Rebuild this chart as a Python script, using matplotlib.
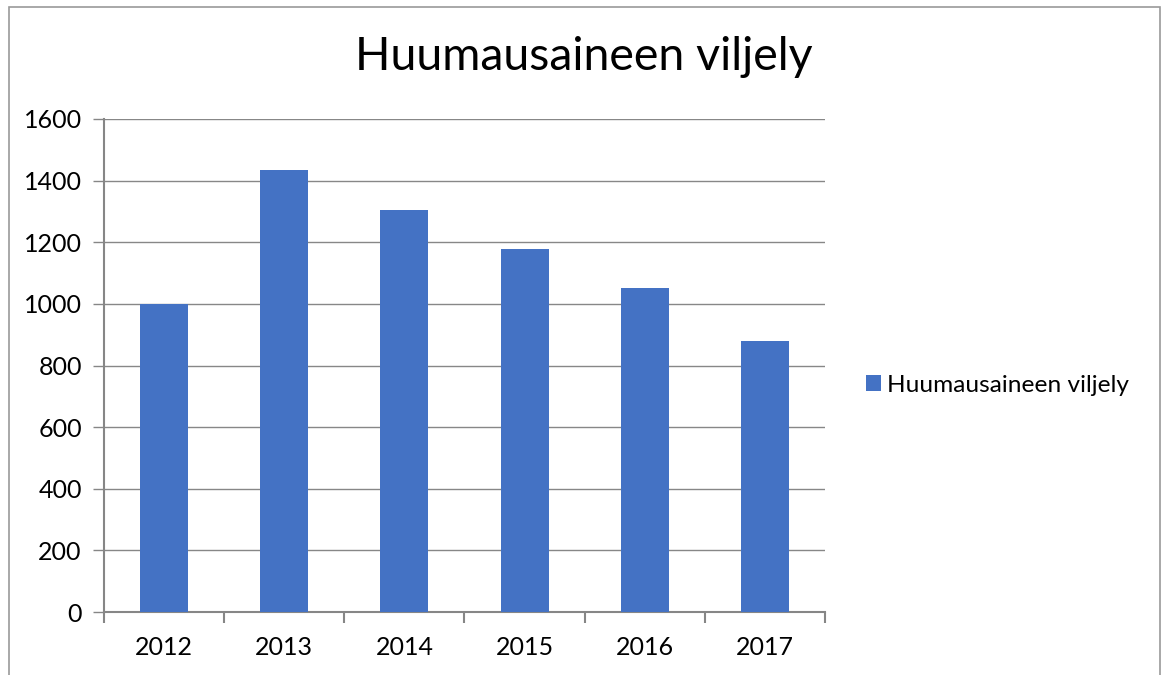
import matplotlib.pyplot as plt
from matplotlib.patches import Rectangle
import numpy as np

years = ['2012', '2013', '2014', '2015', '2016', '2017']
values = [1000, 1435, 1305, 1177, 1053, 878]
series_name = 'Huumausaineen viljely'

plt.rcParams['font.family'] = ['Lato', 'DejaVu Sans']

fig = plt.figure(figsize=(11.62, 6.75), dpi=100)
ax = fig.add_axes([104 / 1162, 1 - 612 / 675, (825 - 104) / 1162, (612 - 119) / 675])

x = np.arange(len(years))
ax.bar(x, values, width=0.4, color='#4472C4', label=series_name, zorder=3)

ax.set_xlim(-0.5, len(years) - 0.5)
ax.set_ylim(0, 1600)
ax.set_yticks(range(0, 1601, 200))
ax.set_xticks(x)
ax.set_xticklabels(years)
ax.set_xticks(np.arange(-0.5, len(years), 1), minor=True)

ax.grid(axis='y', color='#878787', linewidth=1, zorder=0)
for s in ['top', 'right']:
    ax.spines[s].set_visible(False)
for s in ['left', 'bottom']:
    ax.spines[s].set_color('#868686')
    ax.spines[s].set_linewidth(1.5)

ax.tick_params(axis='y', which='major', length=8, color='#868686', width=1,
               labelsize=18, pad=8)
ax.tick_params(axis='x', which='major', length=0, labelsize=18, pad=17)
ax.tick_params(axis='x', which='minor', length=8, color='#868686', width=1.5)

fig.text(584 / 1162, 1 - 57 / 675, series_name, ha='center', va='center', fontsize=33.5)

fig.legend(loc='center left', bbox_to_anchor=(844 / 1162, 1 - 385 / 675),
           frameon=False, fontsize=17.6, handlelength=0.62, handleheight=0.62,
           handletextpad=0.25)

fig.patches.append(Rectangle((9 / 1162, -0.1), (1160 - 9) / 1162, 1.1 - 7 / 675,
                             transform=fig.transFigure, fill=False,
                             edgecolor='#9a9a9a', linewidth=1.2))

fig.savefig('out.png', dpi=100)
